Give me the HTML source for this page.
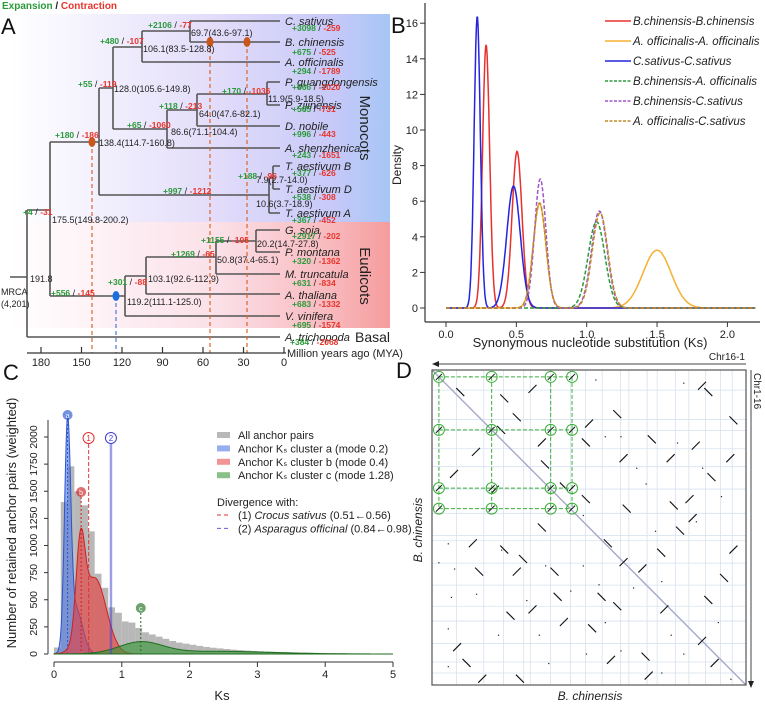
<!DOCTYPE html>
<html><head><meta charset="utf-8"><style>
html,body{margin:0;padding:0;background:#fff}
svg{display:block;font-family:"Liberation Sans",sans-serif}
.lf{font-style:italic;font-size:11px;fill:#222}
.nd{font-size:9px;fill:#222}
.g{fill:#2a9a3a;font-weight:bold;font-size:8.5px}
.r{fill:#e8352c;font-weight:bold;font-size:8.5px}
.br{stroke:#555;stroke-width:1.6;fill:none}
.tk{font-size:11px;fill:#222}
</style></head><body>
<svg id="fig" width="765" height="709" viewBox="0 0 765 709" xmlns="http://www.w3.org/2000/svg">
<defs>
<linearGradient id="gm" x1="0" x2="1" y1="0" y2="0"><stop offset="0" stop-color="#fff"/><stop offset="0.55" stop-color="#e2dcfa"/><stop offset="0.85" stop-color="#c7c9f8"/><stop offset="1" stop-color="#a6c6f6"/></linearGradient>
<linearGradient id="ge" x1="0" x2="1" y1="0" y2="0"><stop offset="0" stop-color="#fff"/><stop offset="0.55" stop-color="#fbe0e8"/><stop offset="0.85" stop-color="#f8b8bc"/><stop offset="1" stop-color="#f59c9c"/></linearGradient>
</defs>
<!-- Panel A -->
<g>
<rect x="10" y="14" width="380" height="208" fill="url(#gm)"/>
<rect x="10" y="222" width="380" height="106" fill="url(#ge)"/>
<text x="2" y="9" font-size="10" font-weight="bold"><tspan fill="#2a9a3a">Expansion</tspan><tspan fill="#222"> / </tspan><tspan fill="#e8352c">Contraction</tspan></text>
<text x="1" y="34" font-size="22" fill="#111">A</text>
<text transform="translate(360,128) rotate(90)" text-anchor="middle" font-size="15" fill="#222">Monocots</text>
<text transform="translate(360,276) rotate(90)" text-anchor="middle" font-size="15" fill="#222">Eudicots</text>
<text x="355" y="342" font-size="14" fill="#222">Basal</text>
<g>
<path class="br" d="M190 21H280M190 42H280M190 21V42M142 31H190M142 62H280M142 31V62M113 47H142M113 47V129"/>
<path class="br" d="M267 82H280M267 105H280M267 82V105M197 94H267M197 126H280M197 94V126M167 110H197M167 148H280M167 110V148M113 129H167"/>
<path class="br" d="M273 166H280M273 189H280M273 166V189M269 178H273M269 213H280M269 178V213M99 195H269M99 88H113M99 88V195"/>
<path class="br" d="M50 142H99M50 142V296M27 210H50M27 210V337M10 277H27M27 337H280"/>
<path class="br" d="M256 230H280M256 252H280M256 230V252M216 241H256M216 274H280M216 241V274M146 257H216M146 294H280M146 257V294M125 276H146M125 316H280M125 276V316M50 296H125"/>
</g>
<g stroke-dasharray="4,3" stroke-width="1.2">
<line x1="92" y1="142" x2="92" y2="353" stroke="#d9662a"/>
<line x1="210" y1="42" x2="210" y2="353" stroke="#d9662a"/>
<line x1="247" y1="42" x2="247" y2="353" stroke="#d9662a"/>
<line x1="116" y1="296" x2="116" y2="353" stroke="#4a7ad8"/>
</g>
<ellipse cx="92" cy="142" rx="3.5" ry="5" fill="#c9571a"/>
<ellipse cx="210" cy="42" rx="3.5" ry="5" fill="#c9571a"/>
<ellipse cx="247" cy="42" rx="3.5" ry="5" fill="#c9571a"/>
<ellipse cx="116" cy="296" rx="3.5" ry="5" fill="#1a6ee0"/>
<g>
<text class="lf" x="285" y="25">C. sativus</text><text class="lf" x="285" y="46">B. chinensis</text><text class="lf" x="285" y="66">A. officinalis</text>
<text class="lf" x="285" y="86">P. guangdongensis</text><text class="lf" x="285" y="109">P. zijinensis</text><text class="lf" x="285" y="130">D. nobile</text>
<text class="lf" x="285" y="152">A. shenzhenica</text><text class="lf" x="285" y="170">T. aestivum B</text><text class="lf" x="285" y="193">T. aestivum D</text>
<text class="lf" x="285" y="217">T. aestivum A</text><text class="lf" x="285" y="234">G. soja</text><text class="lf" x="285" y="256">P. montana</text>
<text class="lf" x="285" y="278">M. truncatula</text><text class="lf" x="285" y="299">A. thaliana</text><text class="lf" x="285" y="320">V. vinifera</text>
<text class="lf" x="285" y="341">A. trichopoda</text>
</g>
<g>
<text class="nd" x="191" y="36">69.7(43.6-97.1)</text><text class="nd" x="143" y="52">106.1(83.5-128.8)</text>
<text class="nd" x="114" y="92">128.0(105.6-149.8)</text><text class="nd" x="268" y="102">11.9(5.9-18.5)</text>
<text class="nd" x="199" y="117">64.0(47.6-82.1)</text><text class="nd" x="171" y="135">86.6(71.1-104.4)</text>
<text class="nd" x="99" y="146">138.4(114.7-160.8)</text><text class="nd" x="256" y="183">7.9(2.7-14.0)</text>
<text class="nd" x="256" y="207">10.6(3.7-18.9)</text><text class="nd" x="52" y="223">175.5(149.8-200.2)</text>
<text class="nd" x="257" y="247">20.2(14.7-27.8)</text><text class="nd" x="217" y="263">50.8(37.4-65.1)</text>
<text class="nd" x="148" y="282">103.1(92.6-112.9)</text><text class="nd" x="30" y="282">191.8</text>
<text class="nd" x="127" y="305">119.2(111.1-125.0)</text>
<text class="nd" x="1" y="295">MRCA</text><text class="nd" x="1" y="307">(4,201)</text>
</g>
<g id="gl"></g>
<g id="tax"></g>
</g>
<!-- Panel B -->
<g id="pb">
<text x="391" y="33" font-size="22" fill="#111">B</text>
<text transform="translate(401,165) rotate(-90)" text-anchor="middle" font-size="12" fill="#222">Density</text>
<text x="590" y="347" text-anchor="middle" font-size="13" fill="#222">Synonymous nucleotide substitution (Ks)</text>
</g>
<!-- Panel C -->
<g id="pc">
<text x="3" y="380" font-size="22" fill="#111">C</text>
<text transform="translate(16,523) rotate(-90)" text-anchor="middle" font-size="13" fill="#222">Number of retained anchor pairs (weighted)</text>
<text x="222" y="700" text-anchor="middle" font-size="13" fill="#222">Ks</text>
</g>
<!-- Panel D -->
<g id="pd">
<text x="396" y="378" font-size="22" fill="#111">D</text>
<text x="745" y="360" text-anchor="end" font-size="10" fill="#222">Chr16-1</text>
<text transform="translate(754,373) rotate(90)" font-size="10" fill="#222">Chr1-16</text>
<text x="590" y="700" text-anchor="middle" font-size="12" font-style="italic" fill="#222">B. chinensis</text>
<text transform="translate(422,530) rotate(-90)" text-anchor="middle" font-size="12" font-style="italic" fill="#222">B. chinensis</text>
</g>
</svg>
<script>
const NS='http://www.w3.org/2000/svg';
function mk(p,t,a){const e=document.createElementNS(NS,t);for(const k in a)e.setAttribute(k,a[k]);p.appendChild(e);return e;}
/* ---- Panel A gain/loss ---- */
const glGain=['+2106','+3098','+480','+675','+294','+55','+566','+170','+118','+565','+65','+996','+180','+243','+188','+377','+538','+997','+367','+4','+1155','+2917','+1269','+320','+301','+631','+556','+683','+695','+384'];
const glLoss=['-77','-259','-107','-525','-1789','-119','-1020','-1036','-213','-731','-1060','-443','-186','-1651','-96','-626','-308','-1212','-452','-31','-105','-202','-65','-1362','-88','-834','-145','-1332','-1574','-2068'];
const glPos=[[148,28],[292,31],[100,44],[292,55],[292,74],[78,87],[292,90],[222,94],[159,109],[292,112],[127,128],[292,137],[55,138],[292,158],[238,179],[292,176],[292,200],[163,194],[292,223],[23,215],[201,243],[292,239],[171,257],[292,264],[108,285],[292,286],[51,296],[292,307],[292,328],[290,345]];
const gl=document.getElementById('gl');
glGain.forEach((g,i)=>{const t=mk(gl,'text',{x:glPos[i][0],y:glPos[i][1]});


const a=mk(t,'tspan',{class:'g'});a.textContent=g;const b=mk(t,'tspan',{class:'nd'});b.textContent=' / ';const c=mk(t,'tspan',{class:'r'});c.textContent=glLoss[i];});
const myaTicks=[180,150,120,90,60,30,0];
const tax=document.getElementById('tax');
const xm=v=>41+(180-v)/180*243;
mk(tax,'line',{x1:27,y1:353,x2:286,y2:353,stroke:'#333','stroke-width':1.2});
myaTicks.forEach(v=>{mk(tax,'line',{x1:xm(v),y1:347,x2:xm(v),y2:353,stroke:'#333','stroke-width':1.2});
const t=mk(tax,'text',{x:xm(v),y:366,'text-anchor':'middle',class:'tk'});t.textContent=v;

});
{const t=mk(tax,'text',{x:287,y:357,'font-size':11,fill:'#222'});t.textContent='Million years ago (MYA)';

}

/* ---- Panel B ---- */
const bNames=['B.chinensis-B.chinensis','A. officinalis-A. officinalis','C.sativus-C.sativus','B.chinensis-A. officinalis','B.chinensis-C.sativus','A. officinalis-C.sativus'];
const bColors=['#e8302c','#f5b030','#2424e0','#2a9a3a','#a055c8','#c08a28'];
const bDash=[false,false,false,true,true,true];
const bMeans=[[0.285,0.505],[0.665,1.5],[0.222,0.48],[1.07],[0.67,1.09],[0.665,1.095]];
const bPeaks=[[14.8,8.8],[5.85,3.25],[16.4,6.85],[4.85],[7.25,5.45],[5.9,5.35]];
const bSds=[[0.025,0.035],[0.045,0.1],[0.022,0.048],[0.06],[0.04,0.055],[0.045,0.055]];
const bXTicks=[0,0.5,1,1.5,2], bXLab=['0.0','0.5','1.0','1.5','2.0'];
const bYTicks=[0,2,4,6,8,10,12,14,16];
const pb=document.getElementById('pb');
const bx=v=>446+v*140.7, by=v=>308-v*17.8;
mk(pb,'line',{x1:425,y1:3,x2:425,y2:322,stroke:'#333','stroke-width':1.2});
mk(pb,'line',{x1:425,y1:322,x2:760,y2:322,stroke:'#333','stroke-width':1.2});
bXTicks.forEach((v,i)=>{mk(pb,'line',{x1:bx(v),y1:322,x2:bx(v),y2:327,stroke:'#333'});const t=mk(pb,'text',{x:bx(v),y:338,'text-anchor':'middle',class:'tk'});t.textContent=bXLab[i];

});
bYTicks.forEach(v=>{mk(pb,'line',{x1:420,y1:by(v),x2:425,y2:by(v),stroke:'#333'});const t=mk(pb,'text',{x:418,y:by(v)+4,'text-anchor':'end',class:'tk'});t.textContent=v;

});
bNames.forEach((n,i)=>{let d='';for(let x=0;x<=2.2001;x+=0.004){let y=0;bMeans[i].forEach((m,j)=>{y+=bPeaks[i][j]*Math.exp(-((x-m)**2)/(2*bSds[i][j]**2));});d+=(d?'L':'M')+bx(x).toFixed(1)+' '+by(y).toFixed(1);}
const p=mk(pb,'path',{d:d,fill:'none',stroke:bColors[i],'stroke-width':1.5});if(bDash[i])p.setAttribute('stroke-dasharray','4,2');


const ly=21+i*20;const l=mk(pb,'line',{x1:605,y1:ly,x2:631,y2:ly,stroke:bColors[i],'stroke-width':1.6});if(bDash[i])l.setAttribute('stroke-dasharray','3,1.5');


const t=mk(pb,'text',{x:633,y:ly+4,'font-size':11.5,'font-style':'italic',fill:'#222'});t.textContent=n;

});

/* ---- Panel C ---- */
const cHist=[60,1400,1730,1500,1370,1130,740,610,430,380,300,290,240,200,180,160,140,120,105,95,85,75,65,58,52,46,40,36,32,28,25,22,20,18,16,15,13,12,11,10,9,8,7,6,5,5,4,4,3,3];
const cYTicks=[0,250,500,750,1000,1250,1500,1750,2000];
const cXTicks=[0,1,2,3,4,5];
const cClusters=['a','b','c'];
const cMeans=[[0.2,0.32],[0.39,0.6],[1.28,2.4]];
const cPeaks=[[2000,420],[820,700],[105,25]];
const cSds=[[0.045,0.1],[0.065,0.17],[0.32,0.8]];
const cFill=['rgba(80,120,225,0.6)','rgba(232,60,60,0.62)','rgba(60,150,60,0.65)'];
const cLine=['#2a55d0','#d02020','#1e6e1e'];
const cModes=[0.2,0.4,1.28];
const cDiv=[0.51,0.84];
const pc=document.getElementById('pc');
const cx=v=>54+v*67.8, cy=v=>654-v*0.1085;
cHist.forEach((h,i)=>{const r=mk(pc,'rect',{x:cx(i*0.1),y:cy(h),width:6.8,height:654-cy(h),fill:'#b8b8b8'});

});
cClusters.forEach((c,i)=>{let d='M'+cx(0)+' '+cy(0);for(let x=0;x<=5.0001;x+=0.01){let y=0;cMeans[i].forEach((m,j)=>{y+=cPeaks[i][j]*Math.exp(-((x-m)**2)/(2*cSds[i][j]**2));});d+='L'+cx(x).toFixed(1)+' '+cy(y).toFixed(1);}
d+='L'+cx(5)+' '+cy(0)+'Z';const p=mk(pc,'path',{d:d,fill:cFill[i],stroke:cLine[i],'stroke-width':1});


const yTop=[415,492,608][i];
mk(pc,'line',{x1:cx(cModes[i]),y1:yTop+5,x2:cx(cModes[i]),y2:654,stroke:cLine[i],'stroke-dasharray':'2,2','stroke-width':1});
const ci=mk(pc,'circle',{cx:cx(cModes[i]),cy:yTop,r:5,fill:cLine[i],opacity:0.65});


const t=mk(pc,'text',{x:cx(cModes[i]),y:yTop+3,'text-anchor':'middle','font-size':7,fill:'#fff'});t.textContent=c;});
const divCol=['#e03030','#4040d0'];
cDiv.forEach((v,i)=>{mk(pc,'line',{x1:cx(v),y1:444,x2:cx(v),y2:654,stroke:divCol[i],'stroke-width':i?2.5:1.2,opacity:i?0.5:0.8,'stroke-dasharray':i?'':'4,2'});
const ci=mk(pc,'circle',{cx:cx(v),cy:438,r:5.5,fill:'#fff',stroke:divCol[i]});


const t=mk(pc,'text',{x:cx(v),y:441,'text-anchor':'middle','font-size':8,fill:divCol[i]});t.textContent=i+1;});
mk(pc,'line',{x1:48,y1:420,x2:48,y2:654,stroke:'#333'});
mk(pc,'line',{x1:54,y1:662,x2:393,y2:662,stroke:'#333'});
cYTicks.forEach(v=>{mk(pc,'line',{x1:44,y1:cy(v),x2:48,y2:cy(v),stroke:'#333'});const t=mk(pc,'text',{transform:`translate(37,${cy(v)}) rotate(-90)`,'text-anchor':'middle','font-size':10.5,fill:'#222'});t.textContent=v;

});
cXTicks.forEach(v=>{mk(pc,'line',{x1:cx(v),y1:662,x2:cx(v),y2:667,stroke:'#333'});const t=mk(pc,'text',{x:cx(v),y:678,'text-anchor':'middle','font-size':11,fill:'#222'});t.textContent=v;

});
const cLeg=[['All anchor pairs','#b8b8b8'],['Anchor K\u209B cluster a (mode 0.2)','rgba(80,120,225,0.6)'],['Anchor K\u209B cluster b (mode 0.4)','rgba(232,60,60,0.55)'],['Anchor K\u209B cluster c (mode 1.28)','rgba(60,150,60,0.6)']];
cLeg.forEach((l,i)=>{const y=436+i*13.4;mk(pc,'rect',{x:217,y:y-4,width:13,height:6,fill:l[1]});const t=mk(pc,'text',{x:238,y:y+3,'font-size':11,fill:'#222'});t.textContent=l[0];

});
{const t=mk(pc,'text',{x:217,y:506,'font-size':11,fill:'#222'});t.textContent='Divergence with:';}
[['(1) ','Crocus sativus',' (0.51\u21900.56)','#e03030'],['(2) ','Asparagus officinal',' (0.84\u21900.98)','#6060e0']].forEach((l,i)=>{const y=515+i*13.4;mk(pc,'line',{x1:217,y1:y,x2:231,y2:y,stroke:l[3],'stroke-dasharray':'4,3'});
const t=mk(pc,'text',{x:238,y:y+4,'font-size':11,fill:'#222'});

mk(t,'tspan',{}).textContent=l[0];mk(t,'tspan',{'font-style':'italic'}).textContent=l[1];mk(t,'tspan',{}).textContent=l[2];});

/* ---- Panel D ---- */
const dGridX=[0.078,0.165,0.228,0.292,0.313,0.377,0.441,0.489,0.542,0.6,0.627,0.685,0.717,0.775,0.818,0.871,0.919,0.956];
const dGridY=[0.064,0.157,0.192,0.25,0.307,0.378,0.455,0.525,0.542,0.613,0.683,0.75,0.797,0.868,0.927,0.962];
const dCircX=[0.022,0.19,0.378,0.446], dCircY=[0.022,0.19,0.375,0.44];
const dSegs=[[0.09,0.07,1],[0.27,0.15,1],[0.5,0.17,-1],[0.59,0.14,1],[0.7,0.22,1],[0.88,0.07,1],[0.86,0.05,-1],[0.96,0.16,1],[0.32,0.06,-1],[0.14,0.26,-1],[0.07,0.33,-1],[0.49,0.23,1],[0.61,0.28,-1],[0.76,0.28,-1],[0.84,0.24,-1],[0.89,0.34,1],[0.95,0.28,-1],[0.22,0.19,1],[0.35,0.23,-1],[0.42,0.37,1],[0.49,0.41,1],[0.77,0.43,1],[0.83,0.47,-1],[0.82,0.41,-1],[0.79,0.51,1],[0.35,0.5,1],[0.56,0.55,1],[0.13,0.55,-1],[0.23,0.57,1],[0.15,0.64,1],[0.27,0.64,-1],[0.29,0.6,1],[0.39,0.64,1],[0.61,0.61,-1],[0.73,0.58,1],[0.67,0.63,-1],[0.93,0.66,1],[0.96,0.57,-1],[0.54,0.72,1],[0.59,0.75,1],[0.32,0.76,-1],[0.4,0.72,1],[0.25,0.78,1],[0.74,0.76,-1],[0.88,0.73,1],[0.51,0.82,1],[0.42,0.8,-1],[0.08,0.88,-1],[0.11,0.93,1],[0.57,0.92,-1],[0.68,0.91,1],[0.86,0.86,-1],[0.9,0.93,-1],[0.16,0.98,-1],[0.28,0.98,1],[0.69,0.97,-1],[0.2,0.38,-1],[0.23,0.09,1],[0.62,0.44,1],[0.36,0.3,1]];
const dDots=[[0.12,0.02],[0.52,0.03],[0.8,0.04],[0.55,0.21],[0.6,0.21],[0.78,0.23],[0.65,0.31],[0.86,0.31],[0.71,0.51],[0.84,0.48],[0.05,0.55],[0.22,0.57],[0.02,0.61],[0.07,0.63],[0.36,0.62],[0.48,0.62],[0.53,0.68],[0.64,0.69],[0.73,0.67],[0.06,0.72],[0.14,0.71],[0.3,0.73],[0.55,0.8],[0.76,0.84],[0.91,0.8],[0.05,0.82],[0.21,0.84],[0.34,0.84],[0.49,0.9],[0.6,0.89],[0.8,0.9],[0.05,0.94],[0.37,0.93],[0.73,0.96],[0.95,0.98],[0.44,0.7],[0.18,0.44],[0.48,0.46],[0.68,0.36],[0.92,0.4]];
const pd=document.getElementById('pd');
const X0=432,Y0=370,W=314,H=315;const dx=f=>X0+f*W, dy=f=>Y0+f*H;
dGridX.forEach(f=>mk(pd,'line',{x1:dx(f),y1:Y0,x2:dx(f),y2:Y0+H,stroke:'#d6e2ef','stroke-width':0.8}));
dGridY.forEach(f=>mk(pd,'line',{x1:X0,y1:dy(f),x2:X0+W,y2:dy(f),stroke:'#d6e2ef','stroke-width':0.8}));
mk(pd,'line',{x1:X0,y1:Y0,x2:X0+W,y2:Y0+H,stroke:'#a8a8c8','stroke-width':1.4});
dSegs.forEach(s=>{const l=mk(pd,'line',{x1:dx(s[0])-4,y1:dy(s[1])-4*s[2],x2:dx(s[0])+4,y2:dy(s[1])+4*s[2],stroke:'#111','stroke-width':1.1});

});
dDots.forEach(s=>{const r=mk(pd,'rect',{x:dx(s[0]),y:dy(s[1]),width:1.2,height:1.2,fill:'#222'});

});
dCircY.forEach(fy=>mk(pd,'line',{x1:dx(dCircX[0]),y1:dy(fy),x2:dx(dCircX[3]),y2:dy(fy),stroke:'#3cae3c','stroke-dasharray':'4,2','stroke-width':1}));
dCircX.forEach(fx=>mk(pd,'line',{x1:dx(fx),y1:dy(dCircY[0]),x2:dx(fx),y2:dy(dCircY[3]),stroke:'#3cae3c','stroke-dasharray':'4,2','stroke-width':1}));
dCircX.forEach(fx=>dCircY.forEach(fy=>{const c=mk(pd,'circle',{cx:dx(fx),cy:dy(fy),r:5.5,fill:'none',stroke:'#3cae3c','stroke-width':1});


mk(pd,'line',{x1:dx(fx)-3,y1:dy(fy)+3,x2:dx(fx)+3,y2:dy(fy)-3,stroke:'#111','stroke-width':1});}));
mk(pd,'rect',{x:X0,y:Y0,width:W,height:H,fill:'none',stroke:'#555','stroke-width':1.2});
mk(pd,'line',{x1:746,y1:364,x2:436,y2:364,stroke:'#444','stroke-width':1});
mk(pd,'path',{d:'M432 364 L439 361 L439 367Z',fill:'#222'});
mk(pd,'line',{x1:751,y1:370,x2:751,y2:682,stroke:'#444','stroke-width':1});
mk(pd,'path',{d:'M751 688 L748 681 L754 681Z',fill:'#222'});
</script>
</body></html>
